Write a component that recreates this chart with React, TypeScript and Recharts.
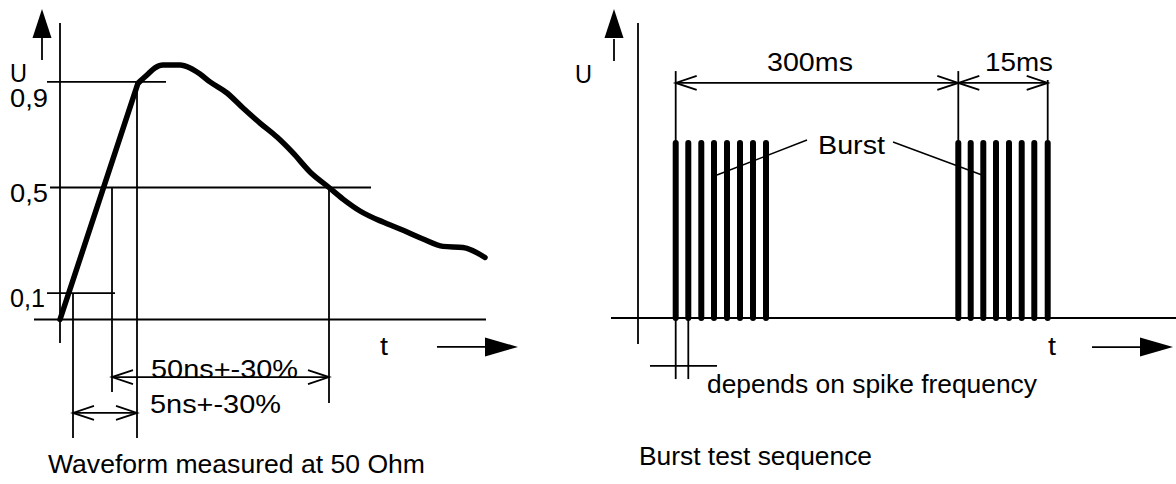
import { ComposedChart, Line, Scatter, ReferenceLine, XAxis, YAxis } from "recharts";

const FONT = '"Liberation Sans", Arial, Helvetica, sans-serif';

// left drawing: surge pulse, t in drawing units (0 = start), U normalised to peak
const waveT = [0, 78, 80, 87, 95, 103, 120, 130, 140, 150, 167, 183, 200, 217, 233, 250, 269, 283, 300, 323, 340, 363, 383, 403, 425];
const waveU = [0, 0.895, 0.902, 0.926, 0.953, 0.964, 0.964, 0.953, 0.93, 0.9, 0.858, 0.801, 0.744, 0.691, 0.631, 0.559, 0.5, 0.456, 0.411, 0.369, 0.343, 0.305, 0.277, 0.273, 0.235];
const levelU = [0.9, 0.5, 0.1];
const levelText = ["0,9", "0,5", "0,1"];
// crossing times: 10% rise, 50% rise, 90% rise, 50% fall
const crossT = [13, 52, 77, 269];

// right drawing: two bursts of spikes
const burstA = [37.7, 50.3, 63.3, 76, 89, 102, 115, 128];
const burstB = [320.3, 332.7, 345.3, 358, 371, 383.7, 396.3, 409.7];

const leftNotes = [
  { t: -50, u: 0.899, text: "U" },
  { t: -50, u: 0.805, text: levelText[0] },
  { t: -50, u: 0.445, text: levelText[1] },
  { t: -50, u: 0.047, text: levelText[2] },
  { t: 320, u: -0.134, text: "t" },
  { t: 91, u: -0.222, text: "50ns+-30%" },
  { t: 90, u: -0.354, text: "5ns+-30%" },
  { t: -12, u: -0.581, text: "Waveform measured at 50 Ohm" },
];

const rightNotes = [
  { t: -63, u: 1.343, text: "U" },
  { t: 129, u: 1.411, text: "300ms" },
  { t: 347, u: 1.411, text: "15ms" },
  { t: 180, u: 0.937, text: "Burst" },
  { t: 69, u: -0.429, text: "depends on spike frequency" },
  { t: 1, u: -0.84, text: "Burst test sequence" },
  { t: 410, u: -0.211, text: "t" },
];

const textWidth: Record<string, number> = {
  U: 17, "0,9": 38, "0,5": 38, "0,1": 35, t: 8,
  "50ns+-30%": 147, "5ns+-30%": 131, "Waveform measured at 50 Ohm": 377,
  "300ms": 86, "15ms": 68, Burst: 67, "depends on spike frequency": 330, "Burst test sequence": 233,
};

type Pt = { t: number; u: number };

function TextShape(p: any) {
  const { cx, cy, payload } = p;
  if (cx == null || cy == null) return <g />;
  const w = textWidth[payload.text];
  return (
    <text x={cx} y={cy} fontFamily={FONT} fontSize={25} fill="#000" textLength={w} lengthAdjust="spacingAndGlyphs">
      {payload.text}
    </text>
  );
}

function ArrowShape(p: any) {
  const { cx, cy, payload } = p;
  if (cx == null || cy == null) return <g />;
  switch (payload.dir) {
    case "up":
      return <polygon points={`${cx},${cy} ${cx - 9.5},${cy + 29} ${cx + 9.5},${cy + 29}`} fill="#000" />;
    case "right":
      return <polygon points={`${cx},${cy} ${cx - 33},${cy - 9.5} ${cx - 33},${cy + 9.5}`} fill="#000" />;
    case "openL":
      return <polyline points={`${cx + 21},${cy - 7} ${cx},${cy} ${cx + 21},${cy + 7}`} fill="none" stroke="#000" strokeWidth={1.8} />;
    default:
      return <polyline points={`${cx - 21},${cy - 7} ${cx},${cy} ${cx - 21},${cy + 7}`} fill="none" stroke="#000" strokeWidth={1.8} />;
  }
}

function seg(key: string, a: Pt, b: Pt, w = 1.8) {
  return (
    <ReferenceLine
      key={key}
      segment={[{ x: a.t, y: a.u }, { x: b.t, y: b.u }]}
      stroke="#000"
      strokeWidth={w}
      ifOverflow="visible"
    />
  );
}

function LeftChart() {
  const wave = waveT.map((t, i) => ({ t, u: waveU[i] }));
  const rise = wave.slice(0, 2);
  const decay = wave.slice(1);
  const arrows = [
    { t: -18, u: 1.176, dir: "up" },
    { t: 458, u: -0.104, dir: "right" },
    { t: crossT[1], u: -0.218, dir: "openL" },
    { t: crossT[3], u: -0.218, dir: "openR" },
    { t: crossT[0], u: -0.354, dir: "openL" },
    { t: crossT[2], u: -0.354, dir: "openR" },
  ];
  const lines = [
    seg("axis", { t: 0, u: 1.123 }, { t: 0, u: -0.089 }),
    seg("base", { t: -26, u: 0 }, { t: 426, u: 0 }),
    seg("l9", { t: -13, u: levelU[0] }, { t: 106, u: levelU[0] }),
    seg("l5", { t: -10, u: levelU[1] }, { t: 311, u: levelU[1] }),
    seg("l1", { t: -13, u: levelU[2] }, { t: 55, u: levelU[2] }),
    seg("v0", { t: crossT[0], u: levelU[2] }, { t: crossT[0], u: -0.449 }),
    seg("v1", { t: crossT[1], u: levelU[1] }, { t: crossT[1], u: -0.275 }),
    seg("v2", { t: crossT[2], u: levelU[0] }, { t: crossT[2], u: -0.449 }),
    seg("v3", { t: crossT[3], u: levelU[1] }, { t: crossT[3], u: -0.316 }),
    seg("d50", { t: crossT[1], u: -0.218 }, { t: crossT[3], u: -0.218 }),
    seg("d5", { t: crossT[0], u: -0.354 }, { t: crossT[2], u: -0.354 }),
    seg("ushaft", { t: -18, u: 1.066 }, { t: -18, u: 0.983 }),
    seg("tshaft", { t: 377, u: -0.104 }, { t: 427, u: -0.104 }),
  ];
  return (
    <ComposedChart width={560} height={484} margin={{ top: 0, right: 0, bottom: 0, left: 0 }}>
      <XAxis type="number" dataKey="t" domain={[-60, 500]} hide allowDataOverflow />
      <YAxis type="number" dataKey="u" domain={[-0.6231, 1.2102]} hide allowDataOverflow />
      {lines}
      <Line data={rise} dataKey="u" type="linear" stroke="#000" strokeWidth={5.5} strokeLinecap="round" dot={false} isAnimationActive={false} />
      <Line data={decay} dataKey="u" type="monotone" stroke="#000" strokeWidth={5.5} strokeLinecap="round" strokeLinejoin="round" dot={false} isAnimationActive={false} />
      <Scatter data={arrows} dataKey="u" shape={ArrowShape} isAnimationActive={false} />
      <Scatter data={leftNotes} dataKey="u" shape={TextShape} isAnimationActive={false} />
    </ComposedChart>
  );
}

function RightChart() {
  const spikes = [...burstA, ...burstB].flatMap((t) => [
    { t, u: 0 },
    { t, u: 1 },
    { t, u: null },
  ]);
  const a0 = burstA[0];
  const b0 = burstB[0];
  const bN = burstB[burstB.length - 1];
  const dimU = 1.343;
  const arrows = [
    { t: -24, u: 1.766, dir: "up" },
    { t: 535, u: -0.166, dir: "right" },
    { t: a0, u: dimU, dir: "openL" },
    { t: b0, u: dimU, dir: "openR" },
    { t: b0, u: dimU, dir: "openL" },
    { t: bN, u: dimU, dir: "openR" },
  ];
  const lines = [
    seg("axis", { t: 0, u: 1.686 }, { t: 0, u: -0.149 }),
    seg("base", { t: -27, u: 0 }, { t: 538, u: 0 }),
    seg("ushaft", { t: -24, u: 1.594 }, { t: -24, u: 1.469 }),
    seg("tshaft", { t: 454, u: -0.166 }, { t: 507, u: -0.166 }),
    seg("e1", { t: a0, u: 1.411 }, { t: a0, u: 1 }),
    seg("e2", { t: b0, u: 1.411 }, { t: b0, u: 1 }),
    seg("e3", { t: bN, u: 1.36 }, { t: bN, u: 1 }),
    seg("d300", { t: a0, u: dimU }, { t: b0, u: dimU }),
    seg("d15", { t: b0, u: dimU }, { t: bN, u: dimU }),
    seg("leadL", { t: 169, u: 1.017 }, { t: 79, u: 0.817 }, 1.5),
    seg("leadR", { t: 255, u: 1.006 }, { t: 344, u: 0.817 }, 1.5),
    seg("f1", { t: burstA[0], u: 0 }, { t: burstA[0], u: -0.349 }),
    seg("f2", { t: burstA[1], u: 0 }, { t: burstA[1], u: -0.349 }),
    seg("fh", { t: 12, u: -0.274 }, { t: 79, u: -0.274 }),
  ];
  return (
    <ComposedChart width={616} height={484} margin={{ top: 0, right: 0, bottom: 0, left: 0 }}>
      <XAxis type="number" dataKey="t" domain={[-78, 538]} hide allowDataOverflow />
      <YAxis type="number" dataKey="u" domain={[-0.9486, 1.8171]} hide allowDataOverflow />
      {lines}
      <Line data={spikes} dataKey="u" type="linear" stroke="#000" strokeWidth={6} strokeLinecap="round" dot={false} isAnimationActive={false} />
      <Scatter data={arrows} dataKey="u" shape={ArrowShape} isAnimationActive={false} />
      <Scatter data={rightNotes} dataKey="u" shape={TextShape} isAnimationActive={false} />
    </ComposedChart>
  );
}

export default function App() {
  return (
    <div style={{ position: "absolute", left: 0, top: 0, width: 1176, height: 484, background: "#fff" }}>
      <div style={{ position: "absolute", left: 0, top: 0 }}>
        <LeftChart />
      </div>
      <div style={{ position: "absolute", left: 560, top: 0 }}>
        <RightChart />
      </div>
    </div>
  );
}
